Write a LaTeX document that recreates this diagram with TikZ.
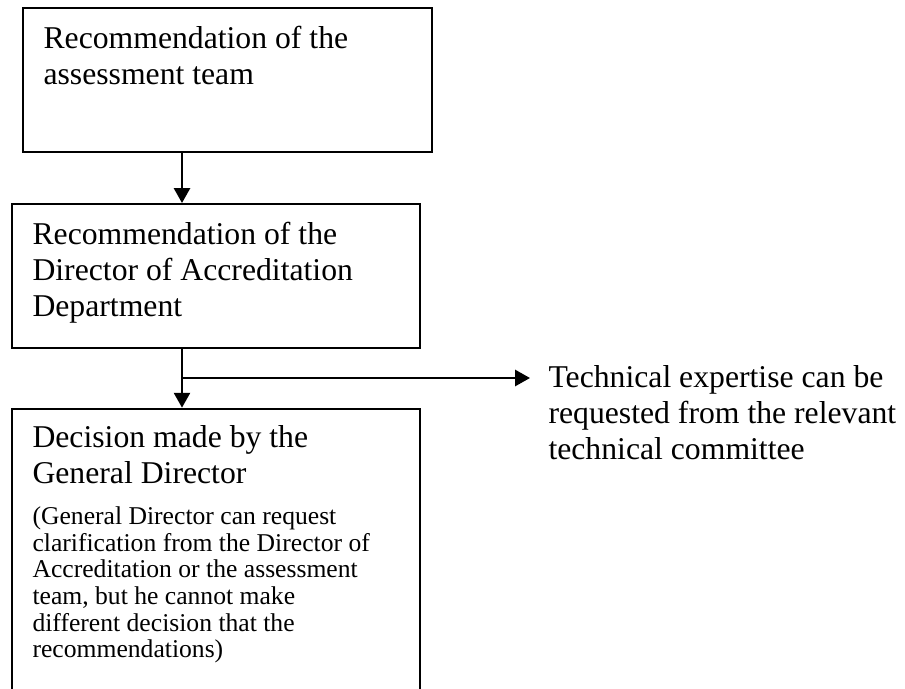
\documentclass[tikz,border=0pt]{standalone}
\usepackage{fontspec}
\setmainfont{Liberation Serif}
\usetikzlibrary{arrows.meta}
\tikzset{
  box/.style={draw, line width=0.75pt, minimum width=154.6pt, inner sep=0pt},
  txt/.style={anchor=base west, inner sep=0pt, text width=200pt, align=flush left,
    font=\fontsize{12}{13.8}\selectfont},
  arr/.style={line width=1pt, -{Triangle[length=5.6pt, width=6pt]}},
}
\begin{document}
\begin{tikzpicture}[x=0.3785pt, y=-0.3785pt]
\clip (0,0) rectangle (905,689);
%% Boxes
\node[box, minimum height=54.5pt](team) at (227.5, 80) {};
\node[box, minimum height=54.5pt](dept) at (216, 276) {};
\node[box, minimum height=110pt](gd) at (216, 554) {};
%% Texts
\node[txt](teamtxt) at (43, 48) {Recommendation of the\\assessment team};
\node[txt](depttxt) at (32, 244) {Recommendation of the\\Director of Accreditation\\Department};
\node[txt](gdtxt) at (32, 447) {Decision made by the\\General Director\par\vspace{5.4pt}%
  \fontsize{9.7}{10.1}\selectfont (General Director can request\\clarification from the Director of\\%
  Accreditation or the assessment\\team, but he cannot make\\different decision that the\\recommendations)\par};
\node[txt](expert) at (548, 387) {Technical expertise can be\\requested from the relevant\\technical committee};
%% Lines
\coordinate (col) at (182, 0);
\coordinate (split) at (182, 378);
\draw[arr] (col |- team.south) -- (col |- dept.north);
\draw[arr] (col |- dept.south) -- (col |- gd.north);
\draw[arr] (split) -- ([xshift=-6.8pt]split -| expert.west);
\end{tikzpicture}
\end{document}
